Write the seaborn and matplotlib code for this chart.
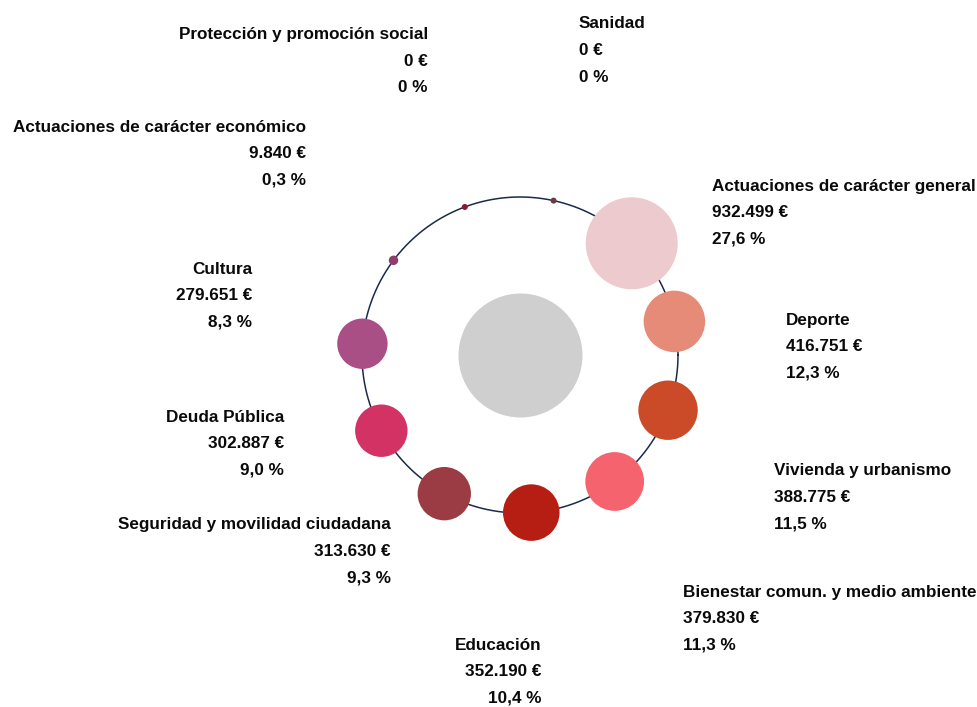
import numpy as np
import pandas as pd
import matplotlib
matplotlib.use("Agg")
import matplotlib.pyplot as plt
import seaborn as sns

# Budget by policy area
categories = [
    "Actuaciones de carácter general",
    "Deporte",
    "Vivienda y urbanismo",
    "Bienestar comun. y medio ambiente",
    "Educación",
    "Seguridad y movilidad ciudadana",
    "Deuda Pública",
    "Cultura",
    "Actuaciones de carácter económico",
    "Protección y promoción social",
    "Sanidad",
]
amounts = [932499, 416751, 388775, 379830, 352190, 313630, 302887, 279651, 9840, 0, 0]
shares = [27.6, 12.3, 11.5, 11.3, 10.4, 9.3, 9.0, 8.3, 0.3, 0.0, 0.0]
colors = [
    "#EDCACE", "#E58B78", "#CB4B29", "#F4636E", "#B61E14", "#9B3B43",
    "#D33264", "#A94F85", "#8E3E6A", "#8B1A2A", "#6E3A42",
]

# Label anchors (pixel offsets from ring centre) and alignment
label_offsets = [
    (192, 169, "left"), (266, 35, "left"), (254, -116, "left"),
    (163, -237, "left"), (21, -290, "right"), (-129, -170, "right"),
    (-236, -62, "right"), (-268, 86, "right"), (-214, 228, "right"),
    (-92, 320, "right"), (59, 331, "left"),
]

RING_R = 158
MAX_R = 46
MIN_R = 3
CENTER_R = 62
PX2PT = 72 / 100


def fmt_amount(v):
    return f"{v:,}".replace(",", ".") + " €"


def fmt_share(p):
    return "0 %" if p == 0 else f"{p:.1f}".replace(".", ",") + " %"


sns.set_theme(style="white")
plt.rcParams["font.family"] = ["Liberation Sans", "DejaVu Sans"]

n = len(categories)
angles = np.deg2rad(45 - np.arange(n) * 360 / n)
radii = np.maximum(MAX_R * np.sqrt(np.array(amounts) / max(amounts)), MIN_R)
df = pd.DataFrame({
    "cat": categories,
    "x": RING_R * np.cos(angles),
    "y": RING_R * np.sin(angles),
    "area": (2 * radii * PX2PT) ** 2,
})

fig = plt.figure(figsize=(9.78, 7.07), dpi=100)
ax = fig.add_axes([0, 0, 1, 1])

# ring
t = np.linspace(0, 2 * np.pi, 721)
ring = pd.DataFrame({"x": RING_R * np.cos(t), "y": RING_R * np.sin(t), "i": np.arange(len(t))})
sns.lineplot(data=ring, x="x", y="y", sort=False, estimator=None, color="#1A2B4A",
             linewidth=1.1, ax=ax, zorder=1)

# central total disc
sns.scatterplot(x=[0], y=[0], s=(2 * CENTER_R * PX2PT) ** 2, color="#CFCFCF",
                linewidth=0, ax=ax, zorder=2)

# category bubbles
amin, amax = df["area"].min(), df["area"].max()
sns.scatterplot(data=df, x="x", y="y", hue="cat", palette=dict(zip(categories, colors)),
                size="area", sizes=(amin, amax), size_norm=(amin, amax),
                linewidth=0, legend=False, ax=ax, zorder=3)

LINE = 26.5
for cat, amt, sh, (dx, dy, ha) in zip(categories, amounts, shares, label_offsets):
    for k, txt in enumerate([cat, fmt_amount(amt), fmt_share(sh)]):
        ax.text(dx, dy - k * LINE, txt, ha=ha, va="center", fontsize=12.3,
                fontweight="bold", color="#0A0A0A")

ax.set_xlim(-520, 458)
ax.set_ylim(-352, 355)
ax.axis("off")
fig.savefig("out.png", dpi=100)
